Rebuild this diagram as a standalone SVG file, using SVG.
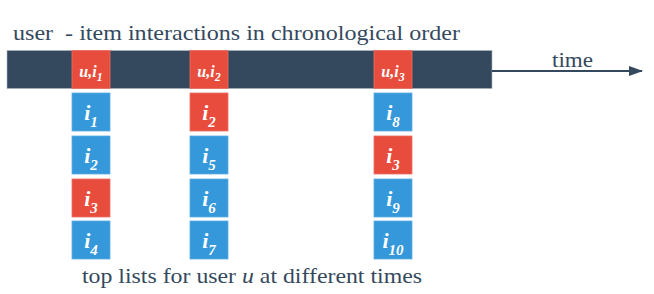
<svg xmlns="http://www.w3.org/2000/svg" width="654" height="294" viewBox="0 0 654 294">
  <style>
    text { font-family: 'Liberation Serif', 'Times New Roman', Times, 'DejaVu Serif', serif; }
    .cap { fill: #34495e; }
    .bar { fill: #34495e; }
    .red { fill: #e74c3c; stroke: #ec7063; stroke-width: 0.8; }
    .blue { fill: #3498db; stroke: #5dade2; stroke-width: 0.8; }
    .lbl { font-style: italic; font-weight: bold; fill: #ffffff; text-anchor: middle; }
    .big { font-size: 22px; }
    .sub { font-size: 15px; }
    .small { font-size: 16px; }
    .subs { font-size: 12px; }
  </style>
  <defs>
    <marker id="arrow" viewBox="0 0 14 10" refX="13" refY="5" markerWidth="14" markerHeight="10" markerUnits="userSpaceOnUse" orient="auto">
      <path d="M0,0 L14,5 L0,10 Z" fill="#34495e"/>
    </marker>
  </defs>

  <text class="cap" font-family="Liberation Serif, serif" x="13" y="40" font-size="22" textLength="447" lengthAdjust="spacingAndGlyphs" xml:space="preserve">user  - item interactions in chronological order</text>

  <g id="timeline">
    <rect class="bar" x="7" y="50.5" width="485" height="38" stroke="#aab4bf" stroke-width="0.6"/>
  </g>

  <g id="connectors">
    <line x1="492" y1="71" x2="642" y2="71" stroke="#34495e" stroke-width="2" marker-end="url(#arrow)"/>
  </g>
  <text class="cap" font-family="Liberation Serif, serif" x="552" y="67" font-size="20" textLength="41" lengthAdjust="spacingAndGlyphs">time</text>

  <g id="event1">
    <rect class="red" x="72" y="50.5" width="38" height="38"/>
    <text class="lbl small" font-family="Liberation Serif, serif" x="91" y="77">u,i<tspan class="subs" dy="4">1</tspan></text>
  </g>
  <g id="event2">
    <rect class="red" x="190" y="50.5" width="38" height="38"/>
    <text class="lbl small" font-family="Liberation Serif, serif" x="209" y="77">u,i<tspan class="subs" dy="4">2</tspan></text>
  </g>
  <g id="event3">
    <rect class="red" x="374" y="50.5" width="38" height="38"/>
    <text class="lbl small" font-family="Liberation Serif, serif" x="393" y="77">u,i<tspan class="subs" dy="4">3</tspan></text>
  </g>

  <g id="l1_i1"><rect class="blue" x="72" y="93" width="38" height="38"/><text class="lbl big" x="91" y="120">i<tspan class="sub" dy="7">1</tspan></text></g>
  <g id="l1_i2"><rect class="blue" x="72" y="136" width="38" height="38"/><text class="lbl big" x="91" y="163">i<tspan class="sub" dy="7">2</tspan></text></g>
  <g id="l1_i3"><rect class="red" x="72" y="179" width="38" height="38"/><text class="lbl big" x="91" y="206">i<tspan class="sub" dy="7">3</tspan></text></g>
  <g id="l1_i4"><rect class="blue" x="72" y="221" width="38" height="38"/><text class="lbl big" x="91" y="248">i<tspan class="sub" dy="7">4</tspan></text></g>

  <g id="l2_i2"><rect class="red" x="190" y="93" width="38" height="38"/><text class="lbl big" x="209" y="120">i<tspan class="sub" dy="7">2</tspan></text></g>
  <g id="l2_i5"><rect class="blue" x="190" y="136" width="38" height="38"/><text class="lbl big" x="209" y="163">i<tspan class="sub" dy="7">5</tspan></text></g>
  <g id="l2_i6"><rect class="blue" x="190" y="179" width="38" height="38"/><text class="lbl big" x="209" y="206">i<tspan class="sub" dy="7">6</tspan></text></g>
  <g id="l2_i7"><rect class="blue" x="190" y="221" width="38" height="38"/><text class="lbl big" x="209" y="248">i<tspan class="sub" dy="7">7</tspan></text></g>

  <g id="l3_i8"><rect class="blue" x="374" y="93" width="38" height="38"/><text class="lbl big" x="393" y="120">i<tspan class="sub" dy="7">8</tspan></text></g>
  <g id="l3_i3"><rect class="red" x="374" y="136" width="38" height="38"/><text class="lbl big" x="393" y="163">i<tspan class="sub" dy="7">3</tspan></text></g>
  <g id="l3_i9"><rect class="blue" x="374" y="179" width="38" height="38"/><text class="lbl big" x="393" y="206">i<tspan class="sub" dy="7">9</tspan></text></g>
  <g id="l3_i10"><rect class="blue" x="374" y="221" width="38" height="38"/><text class="lbl big" x="393" y="248">i<tspan class="sub" dy="7">10</tspan></text></g>

  <text class="cap" font-family="Liberation Serif, serif" x="82" y="283" font-size="21" textLength="340" lengthAdjust="spacingAndGlyphs">top lists for user <tspan font-style="italic">u</tspan> at different times</text>
</svg>
